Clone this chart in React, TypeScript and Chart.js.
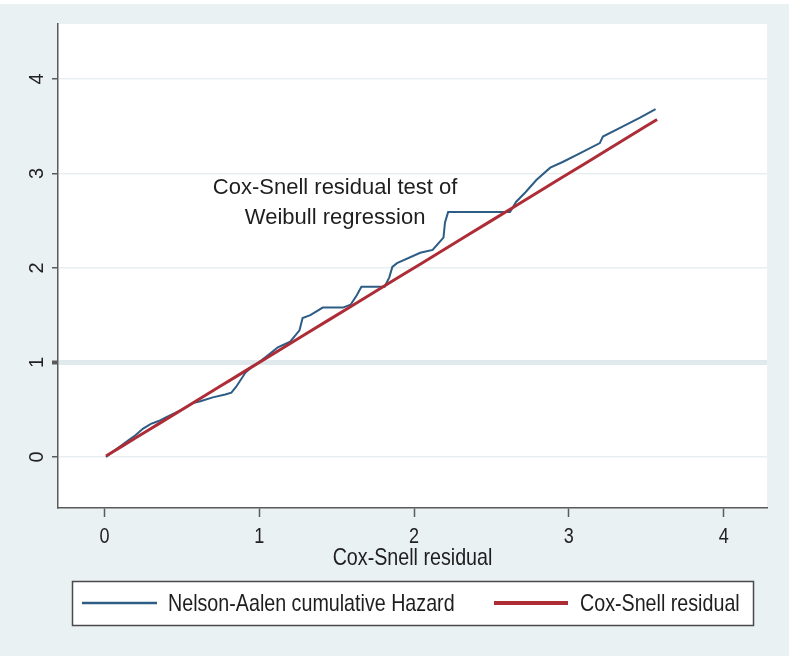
import { useEffect, useRef } from "react";
import { Chart, registerables } from "chart.js";

Chart.register(...registerables);

// Cox-Snell residuals (sorted) and the reference line (residual vs itself)
const csResidual = [0.01, 0.05, 0.12, 0.2, 0.28, 0.35, 0.45, 0.55, 0.65, 0.75, 0.85, 0.95, 1.05, 1.15, 1.3, 1.45, 1.6, 1.75, 1.9, 2.05, 2.2, 2.35, 2.5, 2.65, 2.8, 2.95, 3.1, 3.25, 3.4, 3.5, 3.57];
const csResidualLine = [0.01, 0.05, 0.12, 0.2, 0.28, 0.35, 0.45, 0.55, 0.65, 0.75, 0.85, 0.95, 1.05, 1.15, 1.3, 1.45, 1.6, 1.75, 1.9, 2.05, 2.2, 2.35, 2.5, 2.65, 2.8, 2.95, 3.1, 3.25, 3.4, 3.5, 3.57];

// Nelson-Aalen cumulative hazard
const naResidual = [0.01, 0.05, 0.1, 0.15, 0.2, 0.25, 0.3, 0.35, 0.4, 0.5, 0.57, 0.62, 0.7, 0.78, 0.82, 0.85, 0.91, 0.95, 0.99, 1.06, 1.12, 1.2, 1.26, 1.28, 1.33, 1.41, 1.54, 1.59, 1.63, 1.66, 1.81, 1.84, 1.86, 1.89, 2.04, 2.12, 2.19, 2.2, 2.22, 2.62, 2.66, 2.72, 2.79, 2.88, 2.96, 3.08, 3.2, 3.22, 3.34, 3.46, 3.56];
const naHazard = [0.0, 0.05, 0.11, 0.17, 0.23, 0.3, 0.35, 0.38, 0.42, 0.5, 0.57, 0.59, 0.63, 0.66, 0.68, 0.74, 0.89, 0.95, 0.99, 1.08, 1.16, 1.22, 1.34, 1.47, 1.5, 1.58, 1.58, 1.61, 1.71, 1.8, 1.8, 1.9, 2.01, 2.05, 2.16, 2.19, 2.32, 2.48, 2.59, 2.59, 2.7, 2.8, 2.93, 3.06, 3.12, 3.22, 3.32, 3.39, 3.49, 3.59, 3.68];

const xTickValues = [0, 1, 2, 3, 4];
const yTickValues = [0, 1, 2, 3, 4];
const seriesLabels = ["Nelson-Aalen cumulative Hazard", "Cox-Snell residual"];
const seriesColors = ["#2d5c84", "#ad2c36"];
const noteLines = ["Cox-Snell residual test of", "Weibull regression"];
const xAxisTitle = "Cox-Snell residual";

const REGULAR = "'Liberation Sans', Arial, sans-serif";
const NARROW_SCALE = 0.82;

function narrowText(ctx: any, text: string, x: number, y: number, align: "left" | "center") {
  ctx.save();
  ctx.translate(x, y);
  ctx.scale(NARROW_SCALE, 1);
  ctx.textAlign = align;
  ctx.fillText(text, 0, 0);
  ctx.restore();
}

const stataPlugin = {
  id: "stataLook",
  beforeDraw(chart: any) {
    const { ctx, width, height, chartArea } = chart;
    ctx.save();
    ctx.fillStyle = "#ffffff";
    ctx.fillRect(0, 0, width, height);
    ctx.fillStyle = "#eaf1f3";
    ctx.fillRect(0, 4, width, 652);
    ctx.fillStyle = "#ffffff";
    ctx.fillRect(chartArea.left, chartArea.top, chartArea.right - chartArea.left, chartArea.bottom - chartArea.top);
    ctx.restore();
  },
  afterDraw(chart: any) {
    const { ctx, chartArea } = chart;
    const xs = chart.scales.x;
    const ys = chart.scales.y;
    ctx.save();
    ctx.textBaseline = "middle";
    // rotated y tick labels
    ctx.fillStyle = "#222";
    ctx.font = `20px ${REGULAR}`;
    ctx.textAlign = "center";
    ys.ticks.forEach((t: any) => {
      const py = ys.getPixelForValue(t.value);
      ctx.save();
      ctx.translate(37, py);
      ctx.rotate(-Math.PI / 2);
      ctx.fillText(String(t.value), 0, 0);
      ctx.restore();
    });
    // x tick labels (narrow)
    ctx.font = `22px ${REGULAR}`;
    xs.ticks.forEach((t: any) => {
      narrowText(ctx, String(t.value), xs.getPixelForValue(t.value), 537, "center");
    });
    // x axis title
    ctx.font = `24px ${REGULAR}`;
    ctx.fillStyle = "#1e1e1e";
    narrowText(ctx, xAxisTitle, (chartArea.left + chartArea.right) / 2, 558, "center");
    // note text inside plot
    ctx.font = `22px ${REGULAR}`;
    ctx.textAlign = "center";
    const nx = xs.getPixelForValue(1.49);
    ctx.fillText(noteLines[0], nx, ys.getPixelForValue(2.85));
    ctx.fillText(noteLines[1], nx, ys.getPixelForValue(2.53));
    // legend box
    ctx.fillStyle = "#ffffff";
    ctx.fillRect(72, 581, 681, 44);
    ctx.strokeStyle = "#4a4a4a";
    ctx.lineWidth = 1.5;
    ctx.strokeRect(72.5, 581.5, 681, 44);
    const items = [
      { x0: 82, x1: 157, tx: 168, w: 2.5 },
      { x0: 494, x1: 568, tx: 580, w: 4 },
    ];
    ctx.font = `24px ${REGULAR}`;
    chart.data.datasets.forEach((ds: any, i: number) => {
      const it = items[i];
      ctx.strokeStyle = ds.borderColor;
      ctx.lineWidth = it.w;
      ctx.beginPath();
      ctx.moveTo(it.x0, 603);
      ctx.lineTo(it.x1, 603);
      ctx.stroke();
      ctx.fillStyle = "#1e1e1e";
      narrowText(ctx, ds.label, it.tx, 604, "left");
    });
    ctx.restore();
  },
};

export default function App() {
  const ref = useRef<HTMLCanvasElement | null>(null);
  useEffect(() => {
    if (!ref.current) return;
    const chart = new Chart(ref.current, {
      type: "scatter",
      data: {
        datasets: [
          {
            label: seriesLabels[0],
            data: naResidual.map((x, i) => ({ x, y: naHazard[i] })),
            borderColor: seriesColors[0],
            backgroundColor: seriesColors[0],
            showLine: true,
            borderWidth: 2,
            pointRadius: 0,
            order: 2,
          },
          {
            label: seriesLabels[1],
            data: csResidual.map((x, i) => ({ x, y: csResidualLine[i] })),
            borderColor: seriesColors[1],
            backgroundColor: seriesColors[1],
            showLine: true,
            borderWidth: 3,
            pointRadius: 0,
            order: 1,
          },
        ],
      },
      options: {
        responsive: false,
        animation: false,
        devicePixelRatio: 1,
        layout: { padding: { left: 0, top: 24, right: 22, bottom: 83 } },
        plugins: { legend: { display: false }, tooltip: { enabled: false } },
        scales: {
          x: {
            type: "linear",
            min: -0.3,
            max: 4.28,
            afterBuildTicks: (s: any) => {
              s.ticks = xTickValues.map((v) => ({ value: v }));
            },
            afterFit: (s: any) => {
              s.height = 70;
            },
            border: { color: "#5a5a5a", width: 1.5 },
            grid: { drawOnChartArea: false, drawTicks: true, tickLength: 9, tickColor: "#5a5a5a", tickWidth: 1.5 },
            ticks: { display: false },
          },
          y: {
            type: "linear",
            min: -0.54,
            max: 4.58,
            afterBuildTicks: (s: any) => {
              s.ticks = yTickValues.map((v) => ({ value: v }));
            },
            afterFit: (s: any) => {
              s.width = 58;
            },
            border: { color: "#5a5a5a", width: 1.5 },
            grid: {
              drawTicks: true,
              tickLength: 6,
              color: (c: any) => (c.tick && c.tick.value === 1 ? "#e0e9eb" : "#e8eff1"),
              lineWidth: (c: any) => (c.tick && c.tick.value === 1 ? 5 : 1.5),
              tickColor: "#5a5a5a",
              tickWidth: (c: any) => (c.tick && c.tick.value === 1 ? 4 : 1.5),
            },
            ticks: { display: false },
          },
        },
      },
      plugins: [stataPlugin],
    } as any);
    return () => chart.destroy();
  }, []);
  return (
    <div style={{ position: "absolute", left: 0, top: 0, width: 789, height: 661, background: "#fff" }}>
      <canvas ref={ref} width={789} height={661} style={{ width: 789, height: 661, display: "block" }} />
    </div>
  );
}
